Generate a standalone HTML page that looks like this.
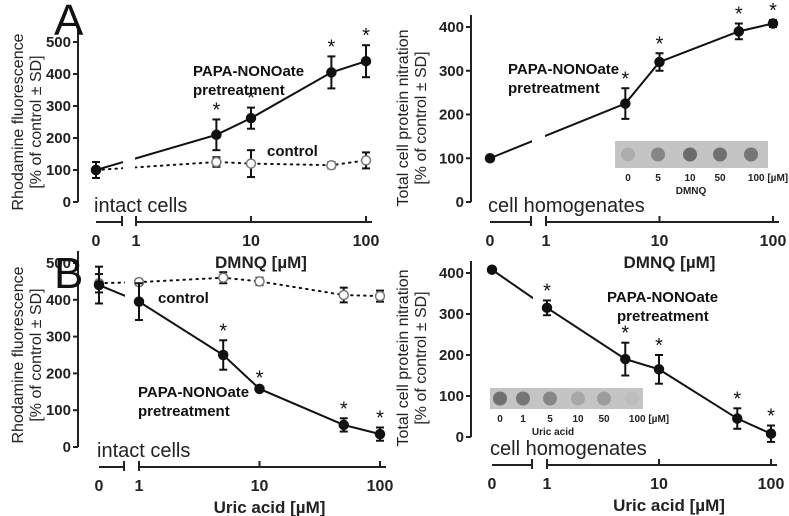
<!DOCTYPE html>
<html><head><meta charset="utf-8"><style>
body{margin:0;background:#fff}
svg{display:block;font-family:"Liberation Sans",Arial,sans-serif}
</style></head><body>
<svg id="fig" width="789" height="516" viewBox="0 0 789 516"></svg>
<script>
// Panel A-left (intact cells, DMNQ)
const doses = [0, 5, 10, 50, 100];
const aLeftPapa = [100, 210, 262, 405, 440];
const aLeftPapaErr = [25, 48, 33, 50, 50];
const aLeftCtrl = [100, 125, 120, 115, 130];
const aLeftCtrlErr = [25, 15, 42, 10, 25];
// Panel A-right (homogenates, DMNQ)
const aRightPapa = [100, 225, 320, 390, 408];
const aRightPapaErr = [0, 35, 20, 18, 8];
// Panel B (uric acid)
const dosesB = [0, 1, 5, 10, 50, 100];
const bLeftPapa = [440, 395, 250, 158, 60, 35];
const bLeftPapaErr = [50, 50, 40, 4, 18, 18];
const bLeftCtrl = [445, 448, 460, 450, 413, 410];
const bLeftCtrlErr = [25, 8, 15, 10, 20, 15];
const bRightPapa = [408, 315, 190, 165, 45, 8];
const bRightPapaErr = [0, 18, 40, 35, 25, 20];
const yTicksL = [0, 100, 200, 300, 400, 500];
const yTicksR = [0, 100, 200, 300, 400];
const xTickLabels = ["0", "1", "10", "100"];

const NS = "http://www.w3.org/2000/svg";
const svg = document.getElementById("fig");
function mk(tag, attrs, parent, text) {
  const e = document.createElementNS(NS, tag);
  for (const k in attrs) e.setAttribute(k, attrs[k]);
  if (text !== undefined) e.textContent = text;
  (parent || svg).appendChild(e);
  return e;
}

function panel(cfg) {
  const g = mk("g", {});
  
  
  const y = v => cfg.y0 - v * cfg.ys;
  const x = d => d === 0 ? cfg.x0 : cfg.x1 + Math.log10(d) * cfg.dec;
  const top = y(cfg.yticks[cfg.yticks.length - 1]);
  const ya = mk("line", {x1: cfg.ax, y1: top - 12, x2: cfg.ax, y2: y(0), stroke: "#222", "stroke-width": 2}, g);
  
  
  cfg.yticks.forEach(t => {
    mk("line", {x1: cfg.ax - 5, x2: cfg.ax, y1: y(t), y2: y(t), stroke: "#222", "stroke-width": 2}, g);
    const tl = mk("text", {x: cfg.ax - 7, y: y(t) + 5, "text-anchor": "end", "font-size": 15, "font-weight": "bold", fill: "#222"}, g, t);
    
    
  });
  const yt = mk("text", {transform: `translate(${cfg.tx},${cfg.ty}) rotate(-90)`, "text-anchor": "middle", "font-size": 16, fill: "#222"}, g);
  
  
  mk("tspan", {x: 0, dy: 0}, yt, cfg.ytitle);
  mk("tspan", {x: 0, dy: 18}, yt, "[% of control ± SD]");
  const xa = mk("g", {stroke: "#222", "stroke-width": 2}, g);
  
  
  mk("line", {x1: cfg.x0, x2: cfg.brk, y1: cfg.axy, y2: cfg.axy}, xa);
  mk("line", {x1: cfg.brk, x2: cfg.brk, y1: cfg.axy - 6, y2: cfg.axy + 4}, xa);
  mk("line", {x1: cfg.x1, x2: x(100) + 6, y1: cfg.axy, y2: cfg.axy}, xa);
  mk("line", {x1: cfg.x1, x2: cfg.x1, y1: cfg.axy - 6, y2: cfg.axy + 4}, xa);
  [0, 1, 10, 100].forEach((d, i) => {
    if (d >= 10) mk("line", {x1: x(d), x2: x(d), y1: cfg.axy - 6, y2: cfg.axy}, xa);
    const tl = mk("text", {x: x(d), y: cfg.axy + 24, "text-anchor": "middle", "font-size": 16, "font-weight": "bold", fill: "#222", stroke: "none"}, g, xTickLabels[i]);
    
    
  });
  const xt = mk("text", {x: x(10) + 10, y: cfg.axy + 46, "text-anchor": "middle", "font-size": 17, "font-weight": "bold", fill: "#222"}, g, cfg.xtitle);
  
  
  const lab = mk("text", {x: cfg.x0 - 2, y: cfg.axy - 10, "font-size": 20, fill: "#222"}, g, cfg.label);
  
  
  const groups = cfg.series.map(s => {
    const sg = mk("g", {}, g);
    
    
    const pts = s.d.map((d, i) => [x(d), y(s.v[i])]);
    const line = mk("polyline", {points: pts.map(p => p.join(",")).join(" "), fill: "none", stroke: "#111", "stroke-width": 2, "stroke-dasharray": s.dot ? "1.5,5" : "none", "stroke-linecap": "round"}, sg);
    
    
    return sg;
  });
  mk("rect", {x: cfg.brk + 1, y: top - 5, width: cfg.x1 - cfg.brk - 2, height: y(0) - top, fill: "#fff"}, g);
  cfg.series.forEach((s, si) => {
    const sg = mk("g", {}, g);
    
    
    s.d.forEach((d, i) => {
      const e = s.e[i], px = x(d), py = y(s.v[i]);
      if (e > 0) {
        mk("line", {x1: px, x2: px, y1: y(s.v[i] + e), y2: y(s.v[i] - e), stroke: "#111", "stroke-width": 2}, sg);
        mk("line", {x1: px - 4, x2: px + 4, y1: y(s.v[i] + e), y2: y(s.v[i] + e), stroke: "#111", "stroke-width": 2}, sg);
        mk("line", {x1: px - 4, x2: px + 4, y1: y(s.v[i] - e), y2: y(s.v[i] - e), stroke: "#111", "stroke-width": 2}, sg);
      }
      const m = mk("circle", {cx: px, cy: py, r: 4.5, fill: s.dot ? "#fff" : "#111", stroke: s.dot ? "#777" : "#111", "stroke-width": 1.5}, sg);
      
      
      if (s.star && s.star[i]) {
        const st = mk("text", {x: px, y: y(s.v[i] + e) - 3, "text-anchor": "middle", "font-size": 20, fill: "#111"}, sg, "*");
        
        
      }
    });
  });
  cfg.notes.forEach(n => {
    const t = mk("text", {x: n[0], y: n[1], "font-size": 15, "font-weight": "bold", fill: "#111"}, g);
    
    
    n[2].split("\n").forEach((l, k) => mk("tspan", {x: n[0], dy: k ? 19 : 0}, t, l));
  });
  return g;
}

panel({name: "panel-a-left", x0: 96, x1: 136, dec: 115, brk: 122, ax: 78, y0: 202, ys: 0.32, axy: 222, yticks: yTicksL,
  tx: 23, ty: 122, ytitle: "Rhodamine fluorescence", xtitle: "DMNQ [µM]", label: "intact cells",
  series: [{name: "control-series", d: doses, v: aLeftCtrl, e: aLeftCtrlErr, dot: true},
           {name: "papa-nonoate-series", d: doses, v: aLeftPapa, e: aLeftPapaErr, star: [0, 1, 1, 1, 1]}],
  notes: [[193, 76, "PAPA-NONOate\npretreatment", "papa-label"], [267, 156, "control", "control-label"]]});
panel({name: "panel-a-right", x0: 490, x1: 546, dec: 113.5, brk: 531, ax: 471, y0: 202, ys: 0.4375, axy: 222, yticks: yTicksR,
  tx: 408, ty: 118, ytitle: "Total cell protein nitration", xtitle: "DMNQ [µM]", label: "cell homogenates",
  series: [{name: "papa-nonoate-series", d: doses, v: aRightPapa, e: aRightPapaErr, star: [0, 1, 1, 1, 1]}],
  notes: [[508, 74, "PAPA-NONOate\npretreatment", "papa-label"]]});
panel({name: "panel-b-left", x0: 99, x1: 139, dec: 120.5, brk: 124, ax: 78, y0: 447, ys: 0.368, axy: 467, yticks: yTicksL,
  tx: 23, ty: 355, ytitle: "Rhodamine fluorescence", xtitle: "Uric acid [µM]", label: "intact cells",
  series: [{name: "control-series", d: dosesB, v: bLeftCtrl, e: bLeftCtrlErr, dot: true},
           {name: "papa-nonoate-series", d: dosesB, v: bLeftPapa, e: bLeftPapaErr, star: [0, 0, 1, 1, 1, 1]}],
  notes: [[158, 303, "control", "control-label"], [138, 397, "PAPA-NONOate\npretreatment", "papa-label"]]});
panel({name: "panel-b-right", x0: 492, x1: 547, dec: 112, brk: 532, ax: 471, y0: 437, ys: 0.41, axy: 465, yticks: yTicksR,
  tx: 408, ty: 358, ytitle: "Total cell protein nitration", xtitle: "Uric acid [µM]", label: "cell homogenates",
  series: [{name: "papa-nonoate-series", d: dosesB, v: bRightPapa, e: bRightPapaErr, star: [0, 1, 1, 1, 1, 1]}],
  notes: [[607, 302, "PAPA-NONOate", "papa-label"], [617, 321, "pretreatment", "papa-label-2"]]});

const blotA = [0.25, 0.6, 0.85, 0.8, 0.75];
const blotALabels = ["0", "5", "10", "50", "100 [µM]"];
const blotB = [0.8, 0.75, 0.6, 0.3, 0.4, 0.1];
const blotBLabels = ["0", "1", "5", "10", "50", "100 [µM]"];
function blot(name, bx, by, w, h, vals, labs, xs, caption, cx) {
  const g = mk("g", {});
  
  
  mk("rect", {x: bx, y: by, width: w, height: h, fill: "#c4c4c4"}, g);
  vals.forEach((v, i) => {
    const c = Math.round(200 - v * 110);
    mk("circle", {cx: xs[i], cy: by + h / 2, r: 7, fill: `rgb(${c},${c},${c})`}, g);
    mk("text", {x: xs[i] + (i === vals.length - 1 ? 17 : 0), y: by + h + 13, "text-anchor": "middle", "font-size": 10, "font-weight": "bold", fill: "#222"}, g, labs[i]);
  });
  mk("text", {x: cx, y: by + h + 26, "text-anchor": "middle", "font-size": 10, "font-weight": "bold", fill: "#222"}, g, caption);
}
blot("dmnq-dot-blot-inset", 615, 141, 153, 27, blotA, blotALabels, [628, 658, 690, 720, 751], "DMNQ", 691);
blot("uric-acid-dot-blot-inset", 490, 388, 153, 21, blotB, blotBLabels, [500, 523, 550, 578, 604, 632], "Uric acid", 553);

const A = mk("text", {x: 54, y: 35, "font-size": 44, fill: "#111"}, svg, "A");


const B = mk("text", {x: 54, y: 288, "font-size": 44, fill: "#111"}, svg, "B");


</script>
</body></html>
